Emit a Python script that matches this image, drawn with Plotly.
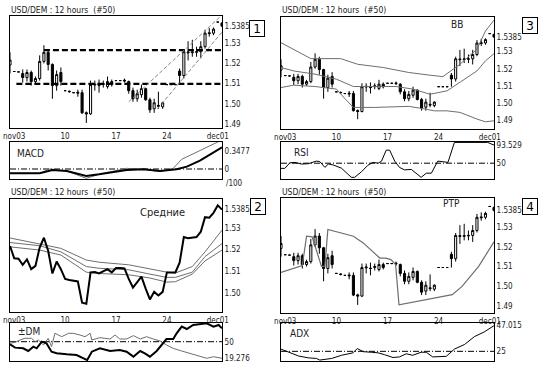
import plotly.graph_objects as go

# ---------------- data ----------------
bars = list(range(51))
opens = [1.5192, 1.5160, 1.5158, 1.5150, 1.5130, 1.5155, 1.5110, 1.5125, 1.5210, 1.5255,
         1.5195, 1.5090, 1.5155, 1.5065, 1.5062, 1.5055, 1.5057, 1.5055, 1.4956, 1.4950,
         1.5093, 1.5092, 1.5095, 1.5085, 1.5110, 1.5115, 1.5115, 1.5117, 1.5110, 1.5065,
         1.5025, 1.5045, 1.5075, 1.5020, 1.4975, 1.4992, 1.4985, 1.5095, 1.5095, 1.5095,
         1.5162, 1.5140, 1.5257, 1.5253, 1.5255, 1.5258, 1.5283, 1.5352, 1.5350, 1.5405,
         1.5400]
highs = [1.5255, 1.5160, 1.5158, 1.5170, 1.5170, 1.5165, 1.5135, 1.5240, 1.5290, 1.5270,
         1.5200, 1.5165, 1.5180, 1.5065, 1.5066, 1.5055, 1.5070, 1.5070, 1.4962, 1.5115,
         1.5115, 1.5120, 1.5115, 1.5135, 1.5120, 1.5115, 1.5115, 1.5125, 1.5115, 1.5080,
         1.5070, 1.5095, 1.5080, 1.5030, 1.5025, 1.5060, 1.5010, 1.5095, 1.5095, 1.5095,
         1.5175, 1.5270, 1.5310, 1.5317, 1.5283, 1.5310, 1.5367, 1.5375, 1.5378, 1.5405,
         1.5405]
lows = [1.5150, 1.5160, 1.5158, 1.5105, 1.5110, 1.5090, 1.5100, 1.5115, 1.5200, 1.5165,
        1.5025, 1.5065, 1.5090, 1.5065, 1.5055, 1.5055, 1.5035, 1.4950, 1.4905, 1.4945,
        1.5065, 1.5055, 1.5080, 1.5075, 1.5085, 1.5115, 1.5115, 1.5105, 1.5050, 1.5010,
        1.5010, 1.5030, 1.5015, 1.4955, 1.4955, 1.4975, 1.4975, 1.5095, 1.5095, 1.5095,
        1.5095, 1.5125, 1.5215, 1.5233, 1.5233, 1.5225, 1.5273, 1.5333, 1.5340, 1.5405,
        1.5380]
closes = [1.5217, 1.5160, 1.5158, 1.5130, 1.5155, 1.5110, 1.5125, 1.5210, 1.5255, 1.5195,
          1.5090, 1.5145, 1.5110, 1.5065, 1.5060, 1.5055, 1.5053, 1.4955, 1.4950, 1.5095,
          1.5097, 1.5090, 1.5100, 1.5110, 1.5095, 1.5115, 1.5115, 1.5113, 1.5065, 1.5025,
          1.5050, 1.5075, 1.5020, 1.4970, 1.5005, 1.4988, 1.5005, 1.5095, 1.5095, 1.5095,
          1.5140, 1.5258, 1.5253, 1.5257, 1.5258, 1.5283, 1.5350, 1.5348, 1.5370, 1.5405,
          1.5385]

tick_idx = [1, 13, 25, 37, 49]
tick_labels = ["nov03", "10", "17", "24", "dec01"]

price_ticks = [1.49, 1.50, 1.51, 1.52, 1.53, 1.5385]
price_tick_text = ["1.49", "1.50", "1.51", "1.52", "1.53", "1.5385"]

# panel 1: support/resistance levels and channel
hlevels = [1.5266, 1.5099]
hstarts = [8, 1.5]
chan_up_x = [28, 50]
chan_up_y = [1.5010, 1.5440]
chan_lo_x = [34.8, 50]
chan_lo_y = [1.4975, 1.5355]

# MACD (x100)
macd_x = [0, 7, 10, 13.4, 18, 21, 27.5, 31.5, 35.4, 39.3, 41.7, 44.8, 50]
macd_y = [-0.083, -0.083, -0.019, -0.039, -0.135, -0.103, -0.019, -0.006, -0.039, -0.006, 0.045, 0.161, 0.418]
sig_x = [0, 7, 9.4, 13.4, 18, 21, 27.5, 31.5, 35.4, 38.5, 40.5, 44.8, 48.7, 50]
sig_y = [-0.083, -0.083, 0.0, -0.039, -0.18, -0.103, 0.013, -0.006, -0.051, 0.013, 0.187, 0.367, 0.527, 0.56]
macd_ref = 0

# moving averages (panel 2)
ma_x = [0, 7, 12, 18, 21, 28, 33, 37, 39, 43, 46, 50]
ma_fast = [1.5254, 1.5228, 1.5206, 1.5152, 1.5142, 1.5130, 1.5111, 1.5096, 1.5092, 1.5122, 1.5190, 1.5290]
ma_mid = [1.5233, 1.5218, 1.5190, 1.5122, 1.5114, 1.5107, 1.5087, 1.5072, 1.5072, 1.5096, 1.5168, 1.5228]
ma_slow = [1.5213, 1.5198, 1.5175, 1.5096, 1.5090, 1.5084, 1.5069, 1.5050, 1.5052, 1.5087, 1.5148, 1.5198]

# +/-DM
dmm_x = [0, 1.2, 3.1, 4.3, 5.5, 6.3, 7.5, 8.6, 9.8, 11, 13.4, 15.7, 18.2, 19.3, 21.2, 23.6, 25.9,
         27.5, 29.1, 30.7, 31.8, 33, 34.6, 36.2, 36.9, 38.5, 39.3, 40.5, 41.7, 43.2, 44.8, 46.4,
         48, 49.2, 50]
dmm_y = [45.1, 39.0, 37.7, 32.8, 40.8, 37.7, 50.1, 47.0, 31.5, 28.5, 26.6, 25.4, 16.1, 31.5, 37.7,
         32.8, 34.7, 31.5, 22.3, 32.8, 28.5, 22.3, 32.8, 47.0, 55.0, 55.0, 65.5, 77.9, 73.5, 80.9,
         82.1, 84.0, 77.9, 80.9, 74.7]
dmp_x = [0, 1.2, 2.4, 3.5, 5.1, 5.9, 6.7, 7.9, 9, 9.8, 10.6, 12.2, 13.8, 14.9, 16.5, 17.7, 18.9,
         19.3, 21.2, 23.6, 24.8, 25.9, 27.5, 29.1, 30.7, 32.2, 33.8, 35.4, 36.9, 38.5, 40.5, 42.4,
         44.8, 46.4, 48, 50]
dmp_y = [47.0, 48.9, 53.2, 56.3, 56.3, 50.1, 53.2, 43.9, 56.3, 40.8, 65.5, 59.3, 65.5, 65.5, 62.4,
         59.3, 65.5, 53.2, 57.5, 55.0, 62.4, 55.0, 55.0, 61.2, 55.0, 59.3, 55.0, 51.3, 43.9, 37.7,
         32.8, 28.5, 22.3, 19.3, 22.3, 19.3]
dm_ref = 50

# Bollinger bands (panel 3)
bb_up_x = [0, 3, 7, 14, 18, 24, 30, 35, 38, 42, 46, 48, 50]
bb_up_y = [1.5352, 1.5314, 1.5259, 1.5259, 1.5226, 1.5207, 1.5178, 1.5162, 1.5154, 1.5226, 1.5314, 1.5420, 1.5484]
bb_mid_x = [0, 3, 8, 13, 17, 22, 27, 31, 35, 39, 42, 46, 48, 50]
bb_mid_y = [1.5207, 1.5187, 1.5168, 1.5139, 1.5096, 1.5096, 1.5096, 1.5081, 1.5051, 1.5071, 1.5120, 1.5187, 1.5246, 1.5288]
bb_lo_x = [0, 3, 8, 13, 15, 17, 22, 30, 34, 36, 39, 42, 46, 48, 50]
bb_lo_y = [1.5090, 1.5104, 1.5096, 1.5081, 1.5025, 1.4974, 1.4974, 1.4980, 1.4964, 1.4954, 1.4954, 1.4945, 1.4906, 1.4890, 1.4896]

# RSI
rsi_x = [0, 0.9, 2.1, 3.3, 4.8, 6.4, 8.3, 9.1, 10.3, 11.1, 12.2, 14.2, 16.5, 17.3, 18.9, 20.4, 21.6,
         22.8, 23.6, 24.7, 25.5, 26.7, 27.8, 29, 30.6, 32.9, 34.1, 35.3, 36.8, 38.4, 39.2, 40.7, 48.5, 50]
rsi_y = [37.6, 37.6, 51, 52, 47.9, 48.8, 55, 54, 40, 48, 46, 38, 16, 16, 29.5, 45, 52, 50, 55, 81.4,
         81.4, 55, 40, 34, 35, 16, 26, 26, 55, 52, 52, 100, 100, 93.5]
rsi_ref = 50

# PTP (panel 4)
ptp_x = [0, 5, 6, 7.3, 9.5, 10.3, 11, 17, 19.3, 23.2, 24.6, 25.8, 26.9, 27.7, 40.2, 42.5, 46.4, 49.6, 50]
ptp_y = [1.5070, 1.5105, 1.5254, 1.5251, 1.5101, 1.5101, 1.5288, 1.5254, 1.5220, 1.5143, 1.5143,
         1.5135, 1.5110, 1.4906, 1.4957, 1.4999, 1.5101, 1.5212, 1.5225]

# ADX
adx_x = [0, 1.7, 4.1, 6.4, 8.3, 9.1, 10.3, 11.9, 14.2, 15.8, 16.9, 17.9, 19.3, 21.2, 22.8, 24.3,
         26.3, 27.8, 29.4, 30.9, 32.9, 34.1, 35.6, 38.8, 40.7, 43.1, 45.4, 47.7, 50]
adx_y = [26.9, 24.2, 21, 19.4, 18.9, 17.5, 18.3, 18.9, 21.6, 22.9, 23.7, 27.4, 24.7, 24.2, 23.7, 22.1,
         19.7, 20.2, 22.9, 21.6, 24.2, 24.2, 20.2, 20.7, 26.9, 30.9, 37.6, 41.6, 47.015]
adx_ref = 25

# ---------------- figure ----------------
W, H = 547, 372
FONT = "Liberation Sans Narrow, Arial Narrow, DejaVu Sans Condensed, Liberation Sans, sans-serif"
GRAY = "#6e6e6e"
DASHDOT = "6px,2px,1px,2px"


def fx(px):
    return px / W


def fy(py):
    return 1 - py / H


fig = go.Figure()


def candles(xa, ya):
    fig.add_trace(go.Candlestick(
        x=bars, open=opens, high=highs, low=lows, close=closes,
        xaxis=xa, yaxis=ya, showlegend=False, hoverinfo="skip",
        increasing=dict(line=dict(color="black", width=1), fillcolor="white"),
        decreasing=dict(line=dict(color="black", width=1), fillcolor="black"),
    ))


def line(x, y, xa, ya, color="black", width=1, dash=None):
    fig.add_trace(go.Scatter(x=x, y=y, xaxis=xa, yaxis=ya, mode="lines",
                             line=dict(color=color, width=width, dash=dash),
                             showlegend=False, hoverinfo="skip"))


# Panel 1
candles("x", "y")
for lvl, st in zip(hlevels, hstarts):
    line([st, bars[-1]], [lvl, lvl], "x", "y", width=2.2, dash="6px,3px")
line(chan_up_x, chan_up_y, "x", "y", color="#888888", width=1, dash="4px,2px")
line(chan_lo_x, chan_lo_y, "x", "y", color="#888888", width=1, dash="4px,2px")
# MACD
line([bars[0], bars[-1]], [macd_ref, macd_ref], "x2", "y2", width=1, dash=DASHDOT)
line(sig_x, sig_y, "x2", "y2", color=GRAY, width=1)
line(macd_x, macd_y, "x2", "y2", width=2)

# Panel 2
line(ma_x, ma_fast, "x3", "y3", color=GRAY, width=1)
line(ma_x, ma_mid, "x3", "y3", color=GRAY, width=1)
line(ma_x, ma_slow, "x3", "y3", color=GRAY, width=1)
line(bars, closes, "x3", "y3", width=2)
# DM
line([bars[0], bars[-1]], [dm_ref, dm_ref], "x4", "y4", width=1, dash=DASHDOT)
line(dmp_x, dmp_y, "x4", "y4", color=GRAY, width=1)
line(dmm_x, dmm_y, "x4", "y4", width=2)

# Panel 3
line(bb_up_x, bb_up_y, "x5", "y5", color=GRAY, width=1)
line(bb_mid_x, bb_mid_y, "x5", "y5", color=GRAY, width=1)
line(bb_lo_x, bb_lo_y, "x5", "y5", color=GRAY, width=1)
candles("x5", "y5")
# RSI
line([bars[0], bars[-1]], [rsi_ref, rsi_ref], "x6", "y6", width=1, dash=DASHDOT)
line(rsi_x, rsi_y, "x6", "y6", width=1)

# Panel 4
line(ptp_x, ptp_y, "x7", "y7", color=GRAY, width=1.2)
candles("x7", "y7")
# ADX
line([bars[0], bars[-1]], [adx_ref, adx_ref], "x8", "y8", width=1, dash=DASHDOT)
line(adx_x, adx_y, "x8", "y8", width=1)

tickfont = dict(family=FONT, size=8, color="#222222")
axis_common = dict(showline=True, mirror=True, linecolor="black", linewidth=1,
                   showgrid=False, zeroline=False, fixedrange=True, automargin=False)

LX = [fx(10), fx(222)]
RX = [fx(281), fx(494)]

panels = {
    1: (LX, (16, 128), [1.488, 1.5435], price_ticks, price_tick_text, True),
    2: (LX, (142, 179), [-0.193, 0.521], [0, 0.3477], ["0", "0.3477"], False),
    3: (LX, (199, 312), [1.4912, 1.5434], price_ticks[1:], price_tick_text[1:], True),
    4: (LX, (323, 361), [14.3, 84.6], [19.276, 50], ["19.276", "50"], False),
    5: (RX, (17, 129), [1.4848, 1.5502], price_ticks, price_tick_text, True),
    6: (RX, (142, 179), [12, 101], [50, 93.529], ["50", "93.529"], False),
    7: (RX, (198, 313), [1.4864, 1.5448], price_ticks, price_tick_text, True),
    8: (RX, (323, 361), [16.7, 49.3], [25, 47.015], ["25", "47.015"], False),
}

lay = {}
for k, (xd, (pt, pb), yr, tv, tt, showx) in panels.items():
    xn = "xaxis" if k == 1 else f"xaxis{k}"
    yn = "yaxis" if k == 1 else f"yaxis{k}"
    ya_name = "y" if k == 1 else f"y{k}"
    xa_name = "x" if k == 1 else f"x{k}"
    lay[xn] = dict(axis_common, domain=xd, anchor=ya_name, range=[bars[0], bars[-1]],
                   tickmode="array", tickvals=tick_idx, ticktext=tick_labels,
                   showticklabels=showx, ticks="", tickfont=tickfont,
                   rangeslider=dict(visible=False))
    lay[yn] = dict(axis_common, domain=[fy(pb), fy(pt)], anchor=xa_name, side="right",
                   range=yr, tickmode="array", tickvals=tv, ticktext=tt,
                   ticks="", tickfont=tickfont)

fig.update_layout(**lay)

title = "USD/DEM : 12 hours  (#50)"
ann = []
tfont = dict(family=FONT, size=8.5, color="#222222")
for (px, py) in [(9, 10), (280, 10), (9, 192), (280, 192)]:
    ann.append(dict(x=fx(px), y=fy(py), xref="paper", yref="paper", text=title,
                    showarrow=False, xanchor="left", yanchor="middle", font=tfont))

for txt, (px, py) in [("1", (257, 28)), ("3", (530, 26)), ("2", (258, 207)), ("4", (530, 207))]:
    ann.append(dict(x=fx(px), y=fy(py), xref="paper", yref="paper", text=txt,
                    showarrow=False, xanchor="center", yanchor="middle",
                    font=dict(family="DejaVu Sans, sans-serif", size=12, color="black"),
                    bordercolor="black", borderwidth=1, borderpad=1,
                    width=12, height=13, bgcolor="white"))

labels = [("MACD", 15, 153, "left", 10), ("RSI", 292, 152, "left", 10),
          ("±DM", 16, 331, "left", 10), ("ADX", 288, 333, "left", 10),
          ("BB", 449, 25, "left", 10), ("PTP", 441, 204, "left", 10),
          ("Средние", 138, 212, "left", 11), ("/100", 224, 183, "left", 8)]
for txt, px, py, xa, sz in labels:
    ann.append(dict(x=fx(px), y=fy(py), xref="paper", yref="paper", text=txt,
                    showarrow=False, xanchor=xa, yanchor="middle",
                    font=dict(family=FONT, size=sz, color="#222222")))

fig.update_layout(annotations=ann, width=W, height=H, autosize=False,
                  margin=dict(l=0, r=0, t=0, b=0, autoexpand=False),
                  paper_bgcolor="white", plot_bgcolor="white",
                  showlegend=False, boxgap=0.3)

fig.write_html("out.html", config={"displayModeBar": False, "staticPlot": True},
               post_script="document.body.style.margin='0px';document.body.style.overflow='hidden';")
